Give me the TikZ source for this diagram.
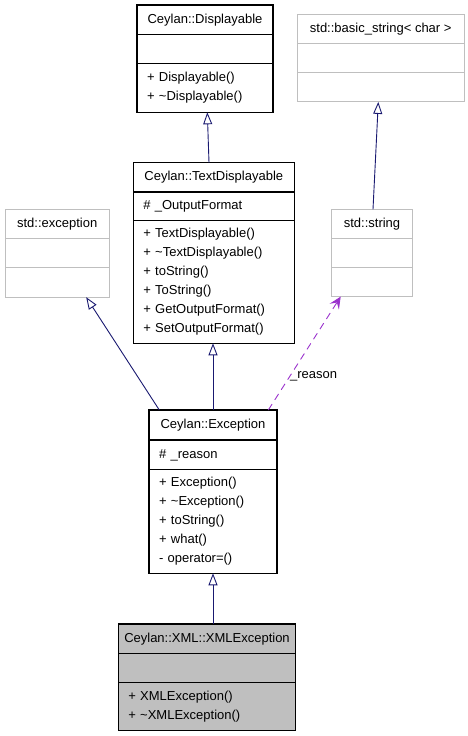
\documentclass[tikz,border=0pt]{standalone}
\usepackage{fontspec}
\setmainfont{Liberation Sans}
\usetikzlibrary{arrows.meta,positioning}

\definecolor{edgeblue}{HTML}{191970}
\definecolor{usepurple}{HTML}{9A32CD}
\definecolor{boxgray}{HTML}{BFBFBF}

\begin{document}
\begin{tikzpicture}[x=1pt, y=-1pt,
  every node/.style={font=\fontsize{13}{19}\selectfont, inner sep=0pt, outer sep=0pt},
  head/.style={draw, line width=1.2pt, anchor=north, minimum height=29.3pt},
  part/.style={head, align=left, inner xsep=10pt},
  ext/.style={draw=boxgray, line width=1pt},
  inh/.style={draw=edgeblue, line width=0.9pt, -{Triangle[open, length=12pt, width=9pt]}},
  use/.style={draw=usepurple, line width=0.9pt, dash pattern=on 7pt off 5pt,
    -{Stealth[length=12pt, width=11pt, inset=5pt]}}
]

\useasboundingbox (0,0) rectangle (468,736); %% page size

%% Ceylan::Displayable
\node[head, minimum width=136pt] (dispH) at (205,5) {Ceylan::Displayable};
\node[head, minimum width=136pt, below=0pt of dispH] (dispA) {};
\node[part, text width=116pt, minimum height=48.7pt, below=0pt of dispA] (dispO)
{+ Displayable()\\+ \textasciitilde Displayable()};

%% std::basic_string< char >
\node[head, ext, minimum width=166.7pt, minimum height=28.6pt] (bstrH) at (380.7,14.7) {std::basic\_string< char >};
\node[head, ext, minimum width=166.7pt, below=0pt of bstrH] (bstrA) {};
\node[head, ext, minimum width=166.7pt, below=0pt of bstrA] (bstrO) {};

%% Ceylan::TextDisplayable
\node[head, minimum width=161pt] (tdispH) at (213.8,162.7) {Ceylan::TextDisplayable};
\node[part, text width=141pt, minimum height=28.7pt, below=0pt of tdispH] (tdispA) {\# \_OutputFormat};
\node[part, text width=141pt, minimum height=122.6pt, below=0pt of tdispA] (tdispO)
{+ TextDisplayable()\\+ \textasciitilde TextDisplayable()\\+ toString()\\+ ToString()\\+ GetOutputFormat()\\+ SetOutputFormat()};

%% std::exception
\node[head, ext, minimum width=104.3pt] (stdexcH) at (57.2,209.3) {std::exception};
\node[head, ext, minimum width=104.3pt, below=0pt of stdexcH] (stdexcA) {};
\node[head, ext, minimum width=104.3pt, below=0pt of stdexcA] (stdexcO) {};

%% std::string
\node[head, ext, minimum width=80.6pt, minimum height=29pt] (stdstrH) at (372,209.3) {std::string};
\node[head, ext, minimum width=80.6pt, below=0pt of stdstrH] (stdstrA) {};
\node[head, ext, minimum width=80.6pt, minimum height=29pt, below=0pt of stdstrA] (stdstrO) {};

%% Ceylan::Exception
\node[head, minimum width=128pt, minimum height=30pt] (excH) at (213,410) {Ceylan::Exception};
\node[part, text width=108pt, minimum height=29.7pt, below=0pt of excH] (excA) {\# \_reason};
\node[part, text width=108pt, minimum height=103.6pt, below=0pt of excA] (excO)
{+ Exception()\\+ \textasciitilde Exception()\\+ toString()\\+ what()\\- operator=()};

%% Ceylan::XML::XMLException
\node[head, fill=boxgray, minimum width=177.4pt] (xmlH) at (207,624) {Ceylan::XML::XMLException};
\node[head, fill=boxgray, minimum width=177.4pt, below=0pt of xmlH] (xmlA) {};
\node[part, fill=boxgray, text width=157.4pt, minimum height=48pt, below=0pt of xmlA] (xmlO)
{+ XMLException()\\+ \textasciitilde XMLException()};

%% inheritance
\draw[inh] ([xshift=-4.8pt]tdispH.north) -- ([xshift=2.3pt]dispO.south);
\draw[inh] ([xshift=1pt]stdstrH.north) -- ([xshift=-2.4pt]bstrO.south);
\draw[inh] ([xshift=-53.7pt]excH.north) -- ([xshift=29pt]stdexcO.south);
\draw[inh] (excH.north) -- (excH.north |- tdispO.south);
\draw[inh] (xmlH.north -| excO.south) -- (excO.south);

%% member use
\draw[use] ([xshift=55.3pt]excH.north) --
node[pos=0.3, anchor=west]{\_reason} ([xshift=-31.3pt]stdstrO.south);

\end{tikzpicture}
\end{document}
